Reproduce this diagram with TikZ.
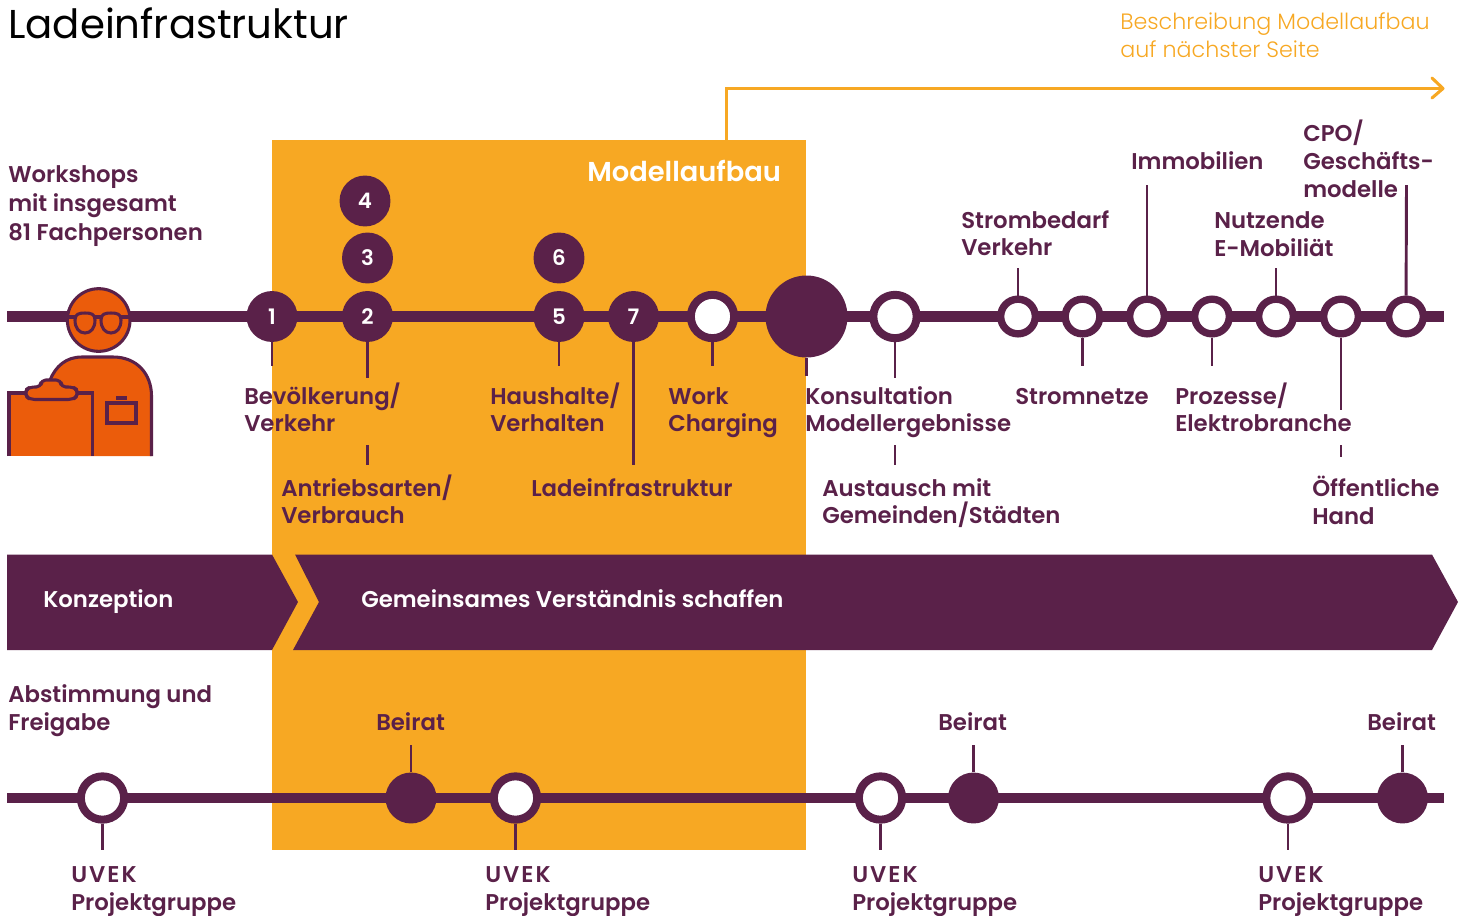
\documentclass[tikz,border=0pt]{standalone}
\usepackage{fontspec}
\setmainfont{Poppins}
\newfontfamily\semi{Poppins SemiBold}
\newfontfamily\lite{Poppins Light}
\newfontfamily\semiwide[LetterSpace=9]{Poppins SemiBold}
\definecolor{plum}{HTML}{5A2149}
\definecolor{amber}{HTML}{F7A823}
\definecolor{rust}{HTML}{EB5C0B}
\newcommand{\two}[2]{\vtop{\baselineskip=20.4pt\hbox{#1}\hbox{#2}}}
\newcommand{\twow}[2]{\vtop{\baselineskip=21.5pt\hbox{#1}\hbox{#2}}}
\newcommand{\three}[3]{\vtop{\baselineskip=20.9pt\hbox{#1}\hbox{#2}\hbox{#3}}}
\newcommand{\threew}[3]{\vtop{\baselineskip=21.9pt\hbox{#1}\hbox{#2}\hbox{#3}}}
\tikzset{
  track/.style={draw=plum,line width=8pt},
  leader/.style={draw=plum,line width=2.2pt},
  numdot/.style={circle,fill=plum,text=white,inner sep=0pt,minimum size=38.2pt,font=\fontsize{16}{18}\semi},
  bigdot/.style={circle,fill=plum,inner sep=0pt,minimum size=61.5pt},
  ring/.style={circle,draw=plum,fill=white,line width=6pt,inner sep=0pt,minimum size=32.5pt},
  smallring/.style={circle,draw=plum,fill=white,line width=5.5pt,inner sep=0pt,minimum size=26pt},
  solid dot/.style={circle,fill=plum,inner sep=0pt,minimum size=38.2pt},
  lbl/.style={anchor=base west,inner sep=0pt,text=plum,font=\fontsize{17.1}{20}\semi},
  icon/.style={draw=plum,fill=rust,line width=2.3pt,line join=round},
  iconline/.style={draw=plum,line width=2.3pt},
}
\begin{document}
\begin{tikzpicture}[x=0.75pt,y=-0.75pt]
\useasboundingbox (0,0) rectangle (1465,915);
% panel
\node[anchor=north west,fill=amber,inner sep=0pt,minimum width=400.5pt,minimum height=532.5pt] (panel) at (272,140) {};
% arrow to next page
\coordinate (arrowfoot) at (726.5,140);
\coordinate (arrowbend) at (726.5,88.5);
\coordinate (arrowend) at (1443,88.5);
\draw[draw=amber,line width=2.3pt] (arrowfoot) -- (arrowbend) -- (arrowend);
\draw[draw=amber,line width=2.3pt,line cap=round,line join=round] (1432,78) -- (arrowend) -- (1432,98);
% title
\node[anchor=base west,inner sep=0pt,text=black,font=\fontsize{30.2}{34}\selectfont] (title) at (8,38) {Ladeinfrastruktur};
\node[anchor=base west,inner sep=0pt,text=amber,font=\fontsize{16.65}{20}\lite] (note) at (1120,29) {\vtop{\baselineskip=21.4pt\hbox{Beschreibung Modellaufbau}\hbox{auf nächster Seite}}};
% tracks
\coordinate (ts) at (7,316.5); \coordinate (te) at (1444,316.5);
\coordinate (bs) at (7,798); \coordinate (be) at (1444,798);
\draw[track] (ts) -- (te);
\draw[track,line width=7.5pt] (bs) -- (be);
% leaders top
\node[numdot] (n1) at (272,316.5) {1};
\node[numdot] (n2) at (367.5,316.5) {2};
\node[numdot] (n3) at (367.5,258) {3};
\node[numdot] (n4) at (365,201) {4};
\node[numdot] (n5) at (559,316.5) {5};
\node[numdot] (n6) at (559,258) {6};
\node[numdot] (n7) at (633.5,316.5) {7};
\node[ring] (r1) at (712.5,316.5) {};
\node[bigdot] (big) at (806.5,316.5) {};
\node[ring] (r2) at (895,316.5) {};
\node[smallring] (s1) at (1018,316.5) {};
\node[smallring] (s2) at (1082.5,316.5) {};
\node[smallring] (s3) at (1147,316.5) {};
\node[smallring] (s4) at (1212,316.5) {};
\node[smallring] (s5) at (1276,316.5) {};
\node[smallring] (s6) at (1341,316.5) {};
\node[smallring] (s7) at (1406,316.5) {};
\coordinate (l1) at (272,366);
\coordinate (l2) at (367.5,378);
\coordinate (l2a) at (367.5,445); \coordinate (l2b) at (367.5,465);
\coordinate (l5) at (559,366);
\coordinate (l7) at (633.5,465);
\coordinate (lr1) at (712.5,366);
\coordinate (lbig) at (806.5,376);
\coordinate (lr2) at (895,378);
\coordinate (lr2a) at (895,445); \coordinate (lr2b) at (895,465);
\coordinate (ls1) at (1018,268);
\coordinate (ls2) at (1082.5,366);
\coordinate (ls3) at (1147,185);
\coordinate (ls4) at (1212,366);
\coordinate (ls5) at (1276,268);
\coordinate (ls6) at (1341,410);
\coordinate (ls6a) at (1341,445); \coordinate (ls6b) at (1341,457);
\coordinate (ls7) at (1406.5,185);
\draw[leader] (n1) -- (l1);
\draw[leader] (n2) -- (l2);
\draw[leader] (l2a) -- (l2b);
\draw[leader] (n5) -- (l5);
\draw[leader] (n7) -- (l7);
\draw[leader] (r1) -- (lr1);
\draw[leader] (big) -- (lbig);
\draw[leader] (r2) -- (lr2);
\draw[leader] (lr2a) -- (lr2b);
\draw[leader] (s1) -- (ls1);
\draw[leader] (s2) -- (ls2);
\draw[leader] (s3) -- (ls3);
\draw[leader] (s4) -- (ls4);
\draw[leader] (s5) -- (ls5);
\draw[leader] (s6) -- (ls6);
\draw[leader] (ls6a) -- (ls6b);
\draw[leader] (s7) -- (ls7);
% person: body
\fill[rust] (50,380) .. controls (56,366) and (66,357) .. (82,357) -- (113,357) .. controls (137,357) and (151.5,374) .. (151.5,396) -- (151.5,456) -- (50,456) -- cycle;
\draw[iconline,line join=round] (50,380) .. controls (56,366) and (66,357) .. (82,357) -- (113,357) .. controls (137,357) and (151.5,374) .. (151.5,396) -- (151.5,456);
\draw[iconline] (107,403) rectangle (136,423);
\draw[iconline] (116,398) -- (127,398);
% person: clipboard
\fill[rust] (9,393) rectangle (92.5,456);
\draw[iconline,line join=miter] (9,456) -- (9,393) -- (92.5,393) -- (92.5,456);
\path[icon,rounded corners=3.5pt] (30,387) -- (41,387) -- (41,380) -- (61,380) -- (61,387) -- (73,387) -- (77.5,390) -- (77.5,396) -- (73,399.5) -- (30,399.5) -- (25.5,396) -- (25.5,390) -- cycle;
% person: head and glasses
\node[circle,icon,inner sep=0pt,minimum size=47pt] (head) at (98.7,320) {};
\draw[iconline] (67,317) -- (130.5,317);
\path[icon] (85,313) .. controls (91,313) and (95,314) .. (95,320) .. controls (95,328) and (91,333) .. (85,333) .. controls (79,333) and (75,328) .. (75,320) .. controls (75,314) and (79,313) .. (85,313) -- cycle;
\path[icon] (111,313) .. controls (117,313) and (121,314) .. (121,320) .. controls (121,328) and (117,333) .. (111,333) .. controls (105,333) and (101,328) .. (101,320) .. controls (101,314) and (105,313) .. (111,313) -- cycle;
% chevrons
\fill[plum] (7,554.5) -- (272,554.5) -- (298,602) -- (272,650) -- (7,650) -- cycle;
\fill[plum] (295,554.5) -- (1432,554.5) -- (1458,602) -- (1432,650) -- (293,650) -- (319,602) -- cycle;
\node[anchor=base west,inner sep=0pt,text=white,font=\fontsize{17.1}{20}\semi] (konz) at (43,607) {Konzeption};
\node[anchor=base west,inner sep=0pt,text=white,font=\fontsize{17.1}{20}\semi] (gem) at (361,607) {Gemeinsames Verständnis schaffen};
\node[anchor=base west,inner sep=0pt,text=white,font=\fontsize{20.5}{24}\semi] (modell) at (587,181) {Modellaufbau};
% labels
\node[lbl] (wk) at (8,182) {\threew{Workshops}{mit insgesamt}{81 Fachpersonen}};
\node[lbl] at (244,404) {\two{Bevölkerung/}{Verkehr}};
\node[lbl] at (281,496) {\two{Antriebsarten/}{Verbrauch}};
\node[lbl] at (490,404) {\two{Haushalte/}{Verhalten}};
\node[lbl] at (668,404) {\two{Work}{Charging}};
\node[lbl] at (531,496) {Ladeinfrastruktur};
\node[lbl] at (805,404) {\two{Konsultation}{Modellergebnisse}};
\node[lbl] at (1015,404) {Stromnetze};
\node[lbl] at (1175,404) {\two{Prozesse/}{Elektrobranche}};
\node[lbl] at (822,496) {\two{Austausch mit}{Gemeinden/Städten}};
\node[lbl] at (1312,496) {\twow{Öffentliche}{Hand}};
\node[lbl] at (961,228) {\two{Strombedarf}{Verkehr}};
\node[lbl] at (1131,169) {Immobilien};
\node[lbl] at (1214,228) {\twow{Nutzende}{E-Mobiliät}};
\node[lbl] at (1303,141.5) {\three{CPO/}{Geschäfts-}{modelle}};
\node[lbl] at (8,702) {\twow{Abstimmung und}{Freigabe}};
\node[lbl] at (376,730) {Beirat};
\node[lbl] at (938,730) {Beirat};
\node[lbl] at (1367,730) {Beirat};
\node[lbl] at (71,882) {\twow{\semiwide UVEK}{Projektgruppe}};
\node[lbl] at (485,882) {\twow{\semiwide UVEK}{Projektgruppe}};
\node[lbl] at (852,882) {\twow{\semiwide UVEK}{Projektgruppe}};
\node[lbl] at (1258,882) {\twow{\semiwide UVEK}{Projektgruppe}};
% bottom row
\node[ring] (b1) at (102.5,798) {};
\node[solid dot] (b2) at (411,798) {};
\node[ring] (b3) at (515.5,798) {};
\node[ring] (b4) at (880.5,798) {};
\node[solid dot] (b5) at (973.5,798) {};
\node[ring] (b6) at (1288,798) {};
\node[solid dot] (b7) at (1402.5,798) {};
\coordinate (lb1) at (102.5,850);
\coordinate (lb2) at (411,745);
\coordinate (lb3) at (515.5,850);
\coordinate (lb4) at (880.5,850);
\coordinate (lb5) at (973.5,745);
\coordinate (lb6) at (1288,850);
\coordinate (lb7) at (1402.5,745);
\draw[leader] (b1) -- (lb1);
\draw[leader] (b2) -- (lb2);
\draw[leader] (b3) -- (lb3);
\draw[leader] (b4) -- (lb4);
\draw[leader] (b5) -- (lb5);
\draw[leader] (b6) -- (lb6);
\draw[leader] (b7) -- (lb7);
\end{tikzpicture}
\end{document}
